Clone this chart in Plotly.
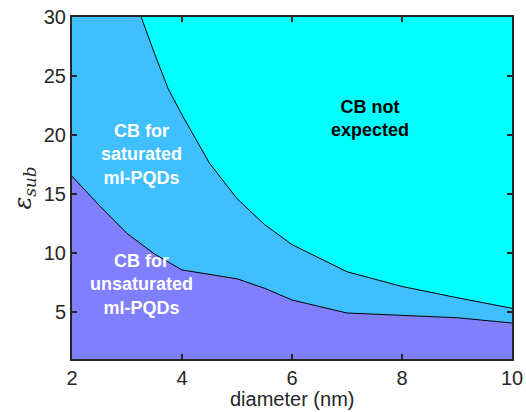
import plotly.graph_objects as go

# Data
diameter_lower = [2, 2.5, 3, 3.5, 4, 5, 5.5, 6, 7, 8, 9, 10]
eps_lower = [16.5, 14.0, 11.65, 9.9, 8.55, 7.8, 7.0, 6.0, 4.9, 4.7, 4.5, 4.05]

diameter_upper = [2, 3, 3.25, 3.5, 3.75, 4, 4.5, 5, 5.5, 6, 7, 8, 9, 10]
eps_upper = [45, 33.5, 30.1, 26.9, 23.9, 21.7, 17.6, 14.6, 12.4, 10.7, 8.4, 7.15, 6.2, 5.3]

labels = [
    dict(x=3.27, y=18.3, text="CB for<br>saturated<br>ml-PQDs", color="white"),
    dict(x=3.27, y=7.3, text="CB for<br>unsaturated<br>ml-PQDs", color="white"),
    dict(x=7.42, y=21.4, text="CB not<br>expected", color="black"),
]

FONT = "Liberation Sans, Arial, sans-serif"

fig = go.Figure()
fig.add_trace(go.Scatter(
    x=diameter_upper, y=eps_upper, mode="lines", fill="tozeroy",
    fillcolor="#40BFFF", line=dict(color="black", width=1), hoverinfo="skip"))
fig.add_trace(go.Scatter(
    x=diameter_lower, y=eps_lower, mode="lines", fill="tozeroy",
    fillcolor="#8080FF", line=dict(color="black", width=1), hoverinfo="skip"))

for lb in labels:
    fig.add_annotation(x=lb["x"], y=lb["y"], text="<b>" + lb["text"] + "</b>",
                       showarrow=False,
                       font=dict(family=FONT, size=18, color=lb["color"]))

# axis titles
fig.add_annotation(x=0.5, y=-0.118, xref="paper", yref="paper", yanchor="middle",
                   text="diameter (nm)", showarrow=False,
                   font=dict(family=FONT, size=20, color="#262626"))
fig.add_annotation(x=-0.11, y=0.5, xref="paper", yref="paper", xanchor="center",
                   text="<i>ε<sub>sub</sub></i>", showarrow=False, textangle=-90,
                   font=dict(family="DejaVu Serif, serif", size=24, color="#262626"))

axis_common = dict(showline=True, linecolor="#262626", linewidth=2, mirror="ticks",
                   ticks="inside", ticklen=5, tickwidth=2, tickcolor="#262626",
                   showgrid=False, zeroline=False, automargin=False,
                   tickfont=dict(family=FONT, size=20, color="#262626"))

fig.update_xaxes(range=[2, 10], tickvals=[2, 4, 6, 8, 10], **axis_common)
fig.update_yaxes(range=[1, 30], tickvals=[5, 10, 15, 20, 25, 30], **axis_common)

fig.update_layout(width=526, height=412, margin=dict(l=72, r=14, t=17, b=53),
                  plot_bgcolor="#00FFFF", paper_bgcolor="white", showlegend=False)

fig.write_html("out.html")
